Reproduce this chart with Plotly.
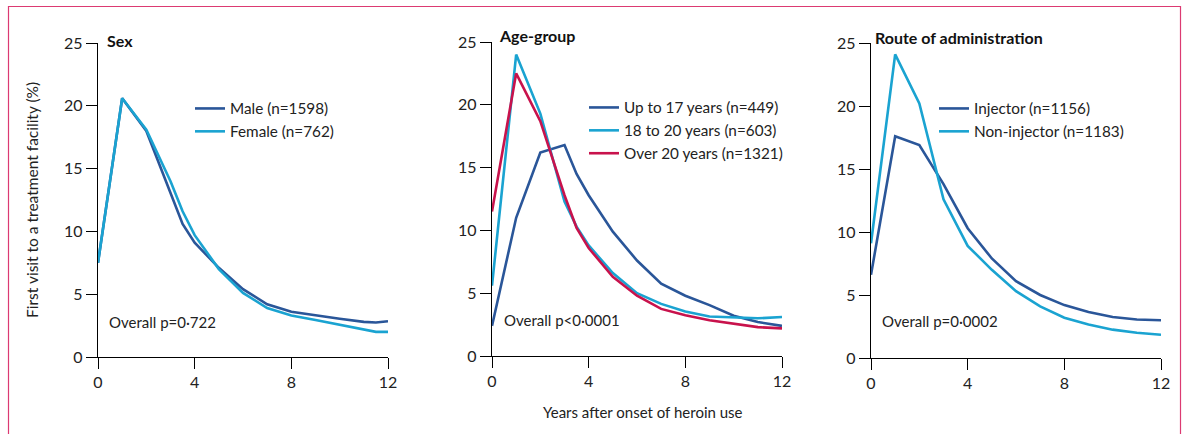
import plotly.graph_objects as go

# ---------------- data ----------------
years_sex = [0, 1, 2, 3, 3.5, 4, 5, 6, 7, 8, 9, 10, 11, 11.5, 12]
male = [7.5, 20.6, 18.0, 13.0, 10.6, 9.1, 7.1, 5.4, 4.2, 3.6, 3.3, 3.05, 2.8, 2.75, 2.85]
female = [7.5, 20.6, 18.1, 14.0, 11.6, 9.7, 7.0, 5.1, 3.9, 3.3, 2.95, 2.55, 2.15, 2.0, 2.0]

years_age = [0, 1, 2, 3, 3.5, 4, 5, 6, 7, 8, 9, 10, 11, 12]
up_to_17 = [2.4, 11.0, 16.2, 16.8, 14.5, 12.8, 9.9, 7.6, 5.75, 4.8, 4.05, 3.2, 2.7, 2.4]
age_18_20 = [5.6, 24.0, 19.3, 12.3, 10.3, 8.8, 6.6, 5.0, 4.15, 3.55, 3.15, 3.05, 3.0, 3.1]
over_20 = [11.5, 22.5, 18.7, 12.8, 10.2, 8.6, 6.3, 4.8, 3.75, 3.25, 2.85, 2.55, 2.3, 2.2]

years_route = [0, 1, 2, 3, 4, 5, 6, 7, 8, 9, 10, 11, 12]
injector = [6.6, 17.6, 16.9, 13.8, 10.3, 7.9, 6.1, 5.0, 4.2, 3.65, 3.25, 3.05, 3.0]
non_injector = [9.1, 24.1, 20.2, 12.6, 8.9, 7.0, 5.3, 4.1, 3.2, 2.65, 2.25, 2.0, 1.85]

panel_titles = ["Sex", "Age-group", "Route of administration"]
p_values = ["Overall p=0·722", "Overall p<0·0001", "Overall p=0·0002"]
x_ticks = [0, 4, 8, 12]
y_ticks = [0, 5, 10, 15, 20, 25]
y_title = "First visit to a treatment facility (%)"
x_title = "Years after onset of heroin use"

# ---------------- style ----------------
DARK = "#2a5699"
CYAN = "#1aa3d1"
RED = "#c8124c"
FONT = "Lato"
W, H = 1183, 434

def px_x(p):
    return p / W

def px_y(p):
    return 1 - p / H

# pixel geometry of the three panels: (x0, x12, y0, y25)
panels = [(98, 388, 357, 43), (492, 782, 356, 42), (871, 1161, 358, 43)]
title_pos = [(105, 41), (497, 36), (873, 38)]
p_pos = [(107, 322), (502, 320), (880, 321)]
legend_pos = [(190, 92), (584, 91), (934, 92)]

fig = go.Figure()

series = [
    [("Male (n=1598)", years_sex, male, DARK), ("Female (n=762)", years_sex, female, CYAN)],
    [("Up to 17 years (n=449)", years_age, up_to_17, DARK),
     ("18 to 20 years (n=603)", years_age, age_18_20, CYAN),
     ("Over 20 years (n=1321)", years_age, over_20, RED)],
    [("Injector (n=1156)", years_route, injector, DARK),
     ("Non-injector (n=1183)", years_route, non_injector, CYAN)],
]

legend_names = ["legend", "legend2", "legend3"]

layout = dict(
    width=W, height=H,
    margin=dict(l=0, r=0, t=0, b=0),
    paper_bgcolor="white", plot_bgcolor="white",
    font=dict(family=FONT, size=15, color="#222"),
    showlegend=True,
)

annotations = []
for i, (x0, x1, y0, y1) in enumerate(panels):
    xa = "xaxis" if i == 0 else f"xaxis{i+1}"
    ya = "yaxis" if i == 0 else f"yaxis{i+1}"
    xref = "x" if i == 0 else f"x{i+1}"
    yref = "y" if i == 0 else f"y{i+1}"
    layout[xa] = dict(
        domain=[px_x(x0), px_x(x1)], range=[0, 12], anchor=yref,
        tickvals=x_ticks, showline=True, linecolor="black", linewidth=1.3,
        ticks="outside", ticklen=11, tickwidth=1.3, tickcolor="black",
        showgrid=False, zeroline=False, automargin=False,
        tickfont=dict(family=FONT, size=16, color="#222"),
    )
    layout[ya] = dict(
        domain=[px_y(y0), px_y(y1)], range=[0, 25], anchor=xref,
        tickvals=y_ticks, showline=True, linecolor="black", linewidth=1.3,
        ticks="outside", ticklen=11, tickwidth=1.3, tickcolor="black",
        showgrid=False, zeroline=False, automargin=False,
        tickfont=dict(family=FONT, size=16, color="#222"),
    )
    for name, xs, ys, col in series[i]:
        fig.add_trace(go.Scatter(
            x=xs, y=ys, mode="lines", name=name,
            line=dict(color=col, width=2.6),
            xaxis=xref, yaxis=yref, legend=legend_names[i],
        ))
    lx, ly = legend_pos[i]
    layout[legend_names[i]] = dict(
        x=px_x(lx), y=px_y(ly), xanchor="left", yanchor="top",
        bgcolor="rgba(0,0,0,0)", borderwidth=0,
        font=dict(family=FONT, size=15.3, color="#222"),
        tracegroupgap=0, itemwidth=30,
    )
    tx, ty = title_pos[i]
    annotations.append(dict(
        text=f"<b>{panel_titles[i]}</b>", xref="paper", yref="paper",
        x=px_x(tx), y=px_y(ty), xanchor="left", yanchor="middle",
        showarrow=False, font=dict(family=FONT, size=16, color="#111"),
    ))
    qx, qy = p_pos[i]
    annotations.append(dict(
        text=p_values[i], xref="paper", yref="paper",
        x=px_x(qx), y=px_y(qy), xanchor="left", yanchor="middle",
        showarrow=False, font=dict(family=FONT, size=15, color="#222"),
    ))

annotations.append(dict(
    text=y_title, xref="paper", yref="paper", x=px_x(32), y=px_y(200),
    xanchor="center", yanchor="middle", textangle=-90, showarrow=False,
    font=dict(family=FONT, size=15.5, color="#222"),
))
annotations.append(dict(
    text=x_title, xref="paper", yref="paper", x=px_x(643), y=px_y(412),
    xanchor="center", yanchor="middle", showarrow=False,
    font=dict(family=FONT, size=15, color="#222"),
))
layout["annotations"] = annotations
layout["shapes"] = [dict(
    type="rect", xref="paper", yref="paper",
    x0=px_x(8.5), x1=px_x(1180.5), y0=px_y(440), y1=px_y(6.5),
    line=dict(color="#dc3a72", width=1.2), fillcolor="rgba(0,0,0,0)",
)]

fig.update_layout(**layout)
fig.write_html(
    "out.html",
    config={"displayModeBar": False},
    post_script="document.body.style.margin='0px';",
)
